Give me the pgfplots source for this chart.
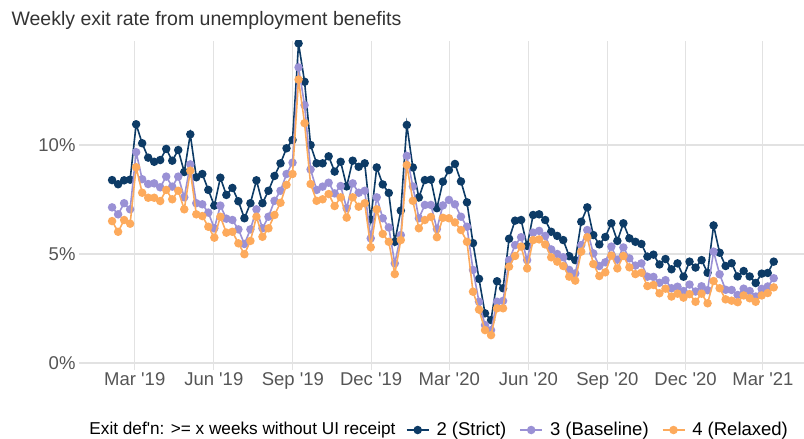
\documentclass[border=0pt]{standalone}
\usepackage{fontspec}
\setmainfont{Liberation Sans}
\usepackage{pgfplots}
\usepackage{pgfplotstable}
\pgfplotsset{compat=1.18}
\definecolor{cS}{HTML}{0D3B66}
\definecolor{cB}{HTML}{9A91D5}
\definecolor{cR}{HTML}{FDAA5C}
\definecolor{gridc}{HTML}{E2E2E2}
\definecolor{tickc}{HTML}{555555}
\definecolor{titlec}{HTML}{333333}

\pgfplotstableread{
w S B R
0 8.39 7.14 6.51
1 8.20 6.82 6.02
2 8.38 7.33 6.56
3 8.41 7.05 6.39
4 10.95 9.67 8.98
5 10.08 8.43 7.81
6 9.42 8.21 7.58
7 9.23 8.24 7.58
8 9.31 8.06 7.43
9 9.82 8.55 7.94
10 9.28 8.09 7.51
11 9.77 8.55 7.90
12 8.76 7.60 7.05
13 10.49 9.11 8.82
14 8.52 7.33 6.82
15 8.67 7.28 6.74
16 7.94 6.90 6.25
17 7.22 6.18 5.75
18 8.50 7.22 6.71
19 7.71 6.62 5.98
20 8.03 6.56 6.02
21 7.42 6.13 5.49
22 6.64 5.46 4.99
23 7.33 6.13 5.60
24 8.38 7.05 6.71
25 7.33 6.18 5.79
26 7.90 6.71 6.18
27 8.58 7.44 6.79
28 9.16 7.90 7.35
29 9.85 8.67 8.17
30 10.23 9.19 8.67
31 14.66 13.56 13.00
32 12.90 11.83 11.00
33 10.00 8.88 8.21
34 9.16 7.94 7.44
35 9.16 8.09 7.51
36 9.48 8.27 7.75
37 8.78 7.78 7.20
38 9.23 8.12 7.60
39 8.10 7.10 6.67
40 9.28 8.24 7.60
41 9.00 7.81 7.17
42 9.16 7.90 7.33
43 6.59 5.72 5.31
44 8.97 7.60 7.05
45 8.19 6.64 5.92
46 7.80 6.22 5.56
47 5.56 4.57 4.08
48 6.99 5.87 5.64
49 10.92 9.50 9.08
50 8.97 8.10 7.44
51 7.59 6.64 6.18
52 8.39 7.25 6.56
53 8.41 7.25 6.70
54 7.10 6.15 5.77
55 8.32 7.23 6.66
56 8.85 7.48 6.64
57 9.13 7.28 6.45
58 8.33 6.71 6.10
59 7.37 6.25 5.56
60 5.50 4.27 3.27
61 3.86 2.81 2.45
62 2.28 1.74 1.51
63 1.97 1.51 1.28
64 3.75 2.81 2.51
65 3.43 2.85 2.51
66 5.70 4.72 4.42
67 6.53 5.41 4.91
68 6.56 5.77 5.34
69 5.37 4.72 4.34
70 6.79 5.98 5.64
71 6.82 6.06 5.67
72 6.56 5.83 5.44
73 6.02 5.21 4.85
74 5.83 5.00 4.65
75 5.64 4.85 4.45
76 4.90 4.27 3.96
77 4.72 4.11 3.78
78 6.48 5.41 5.11
79 7.14 6.10 5.77
80 5.87 5.03 4.54
81 5.44 4.45 3.99
82 5.78 4.62 4.16
83 6.41 5.34 4.93
84 5.60 4.74 4.34
85 6.41 5.30 4.91
86 5.72 4.80 4.39
87 5.56 4.47 4.08
88 5.46 4.57 4.14
89 4.88 3.96 3.53
90 4.97 3.95 3.58
91 4.52 3.68 3.20
92 4.77 3.80 3.41
93 4.30 3.43 3.05
94 4.57 3.50 3.18
95 3.96 3.30 3.00
96 4.65 3.60 3.16
97 4.38 3.28 2.81
98 4.72 3.52 3.18
99 4.14 3.34 2.74
100 6.31 5.11 3.76
101 5.06 4.07 3.43
102 4.45 3.36 2.92
103 4.58 3.35 2.86
104 3.97 3.12 2.79
105 4.22 3.41 3.10
106 3.97 3.30 2.97
107 3.67 3.05 2.81
108 4.10 3.40 3.10
109 4.13 3.51 3.21
110 4.65 3.89 3.47
}\data

\begin{document}
\begin{tikzpicture}
\begin{axis}[
  at={(0,0)}, anchor=south west,
  scale only axis, width=725pt, height=329pt,
  xmin=-5.5, xmax=115.03, ymin=-0.32, ymax=14.77,
  axis line style={draw=none}, tick style={draw=none},
  xtick={3.77,16.91,30.06,43.06,56.06,69.20,82.34,95.34,108.20},
  xticklabels={Mar \textquotesingle19,Jun \textquotesingle19,Sep \textquotesingle19,Dec \textquotesingle19,Mar \textquotesingle20,Jun \textquotesingle20,Sep \textquotesingle20,Dec \textquotesingle20,Mar \textquotesingle21},
  ytick={0,5,10}, yticklabels={0\%,5\%,10\%},
  xmajorgrids, ymajorgrids,
  major grid style={gridc, line width=1.1pt},
  tick label style={font=\fontsize{18.5}{22}\selectfont, text=tickc},
  xticklabel style={yshift=1pt},
  clip marker paths=true,
  every axis plot/.append style={line width=1.6pt, mark=*, mark size=3.4pt},
  legend image code/.code={\draw[mark repeat=2,mark phase=2] plot coordinates {(0pt,0pt) (11pt,0pt) (22pt,0pt)};},
  legend style={at={(axis description cs:0.4465,-0.1824)}, anchor=west, draw=none, fill=none,
    legend columns=-1, font=\fontsize{18.5}{22}\selectfont,
    /tikz/every odd column/.append style={column sep=5pt},
    /tikz/every even column/.append style={column sep=11pt}},
]
\addplot[cS, mark options={fill=cS, draw=cS}] table[x=w, y=S] {\data};
\addlegendentry{2 (Strict)}
\addplot[cB, mark options={fill=cB, draw=cB}] table[x=w, y=B] {\data};
\addlegendentry{3 (Baseline)}
\addplot[cR, mark options={fill=cR, draw=cR}] table[x=w, y=R] {\data};
\addlegendentry{4 (Relaxed)}
\end{axis}
\node[anchor=east, font=\fontsize{17.2}{20}\selectfont] at (320pt,-60pt) {Exit def\textquotesingle n: >= x weeks without UI receipt};
\node[anchor=base west, font=\fontsize{19.5}{23}\selectfont, text=titlec] at (-71pt,344pt) {Weekly exit rate from unemployment benefits};
\pgfresetboundingbox
\useasboundingbox (-79pt,-69pt) rectangle (725pt,370pt);
\end{tikzpicture}
\end{document}
